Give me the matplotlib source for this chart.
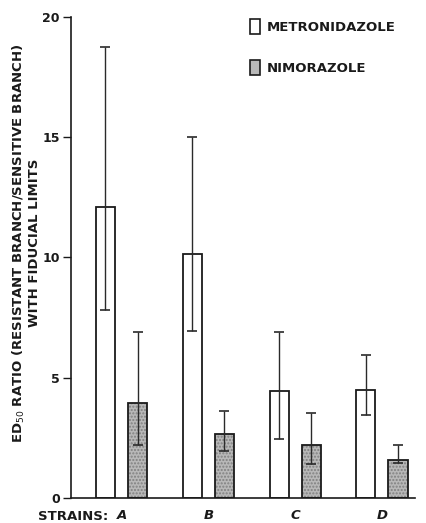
import matplotlib
matplotlib.use("Agg")
import matplotlib.pyplot as plt
import numpy as np
from matplotlib.patches import Patch

plt.rcParams['font.family'] = ['DejaVu Sans']

strains = ['A', 'B', 'C', 'D']
drugs = ['METRONIDAZOLE', 'NIMORAZOLE']

# ED50 ratio with lower / upper fiducial limits
metro = [12.1, 10.15, 4.45, 4.5]
metro_lo = [7.8, 6.95, 2.45, 3.45]
metro_hi = [18.75, 15.0, 6.9, 5.95]

nimo = [3.95, 2.65, 2.2, 1.6]
nimo_lo = [2.2, 1.95, 1.4, 1.45]
nimo_hi = [6.9, 3.6, 3.55, 2.2]

fig = plt.figure(figsize=(4.26, 5.23), dpi=100)
ax = fig.add_axes([0.1667, 0.0478, 0.8075, 0.9197])

x = np.arange(len(strains))
w = 0.22
off = 0.185

stipple = '#b8b8b8'
ink = '#1a1a1a'

def draw_series(pos, vals, lo, hi, filled):
    vals = np.asarray(vals)
    if filled:
        ax.bar(pos, vals, w, color=stipple, edgecolor='#808080',
               hatch='.....', linewidth=0, zorder=2)
        ax.bar(pos, vals, w, fill=False, edgecolor=ink,
               linewidth=1.3, zorder=3)
    else:
        ax.bar(pos, vals, w, color='white', edgecolor=ink,
               linewidth=1.3, zorder=2)
    err = np.vstack([vals - np.asarray(lo), np.asarray(hi) - vals])
    ax.errorbar(pos, vals, yerr=err, fmt='none', ecolor='#2a2a2a',
                elinewidth=1.0, capsize=3.5, capthick=1.2, zorder=4)

draw_series(x - off, metro, metro_lo, metro_hi, False)
draw_series(x + off, nimo, nimo_lo, nimo_hi, True)

ax.set_ylim(0, 20)
ax.set_xlim(-0.582, 3.381)
ax.set_yticks([0, 5, 10, 15, 20])
ax.set_yticklabels(['0', '5', '10', '15', '20'], fontsize=9, fontweight='bold',
                   color=ink)
ax.tick_params(axis='y', length=6, width=1.0, pad=2, color=ink)
ax.set_xticks(x)
ax.set_xticklabels(strains, fontsize=9.5, fontweight='bold', style='italic',
                   color=ink)
ax.tick_params(axis='x', length=0, pad=8)
ax.spines['top'].set_visible(False)
ax.spines['right'].set_visible(False)
for s in ('left', 'bottom'):
    ax.spines[s].set_linewidth(1.2)
    ax.spines[s].set_color(ink)

fig.text(108 / 426, 1 - 517 / 523, 'STRAINS:', fontsize=9.5, fontweight='bold',
         ha='right', va='center', color=ink)

ax.set_ylabel('ED$_{50}$ RATIO (RESISTANT BRANCH/SENSITIVE BRANCH)\nWITH FIDUCIAL LIMITS',
              fontsize=9.5, fontweight='bold', linespacing=1.15, color=ink)
ax.yaxis.set_label_coords(-0.086, 0.53)

handles = [Patch(facecolor='white', edgecolor=ink, linewidth=1.2),
           Patch(facecolor=stipple, edgecolor=ink, linewidth=1.2)]
leg = ax.legend(handles, drugs, loc='upper left', bbox_to_anchor=(0.506, 1.007),
                frameon=False, handlelength=0.75, handleheight=1.4,
                labelspacing=1.93, handletextpad=0.5, borderaxespad=0,
                prop={'weight': 'bold', 'size': 9.5})
for t in leg.get_texts():
    t.set_color(ink)

fig.savefig('out.png', dpi=100)
